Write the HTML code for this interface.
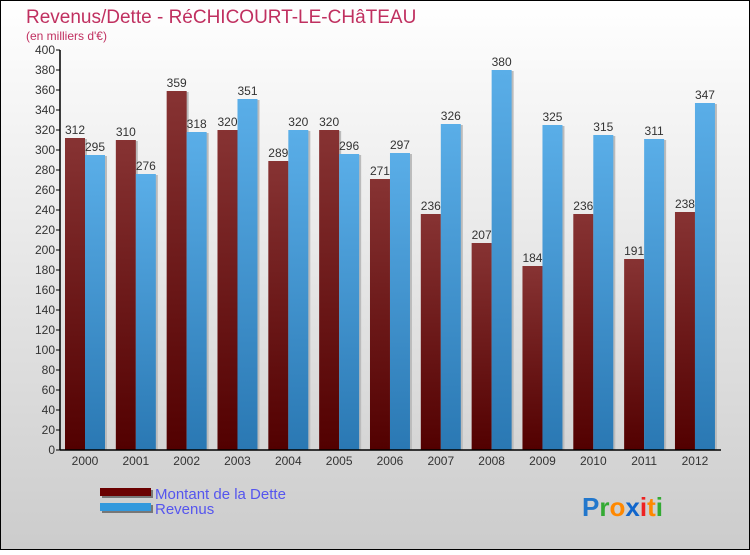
<!DOCTYPE html>
<html><head><meta charset="utf-8"><style>
body{margin:0;}
svg text{font-family:"Liberation Sans",sans-serif;}
</style></head><body>
<svg width="750" height="550" xmlns="http://www.w3.org/2000/svg">
<defs>
<linearGradient id="bg" x1="0" y1="0" x2="0" y2="1"><stop offset="0" stop-color="#ffffff"/><stop offset="1" stop-color="#cccccc"/></linearGradient>
<linearGradient id="gd" x1="0" y1="0" x2="0" y2="1"><stop offset="0" stop-color="#873333"/><stop offset="1" stop-color="#520000"/></linearGradient>
<linearGradient id="gr" x1="0" y1="0" x2="0" y2="1"><stop offset="0" stop-color="#5aaee8"/><stop offset="1" stop-color="#2a78b3"/></linearGradient>
</defs>
<rect x="0.5" y="0.5" width="749" height="549" fill="url(#bg)" stroke="#000"/>
<text x="26" y="23" font-size="19" fill="#c03060">Revenus/Dette - RéCHICOURT-LE-CHâTEAU</text>
<text x="26" y="40" font-size="12" fill="#c03060">(en milliers d'€)</text>
<g id="plot"></g>
<g>
<rect x="102" y="490" width="51" height="8" fill="#777"/>
<rect x="100" y="488" width="51" height="8" fill="#6a0000"/>
<rect x="102" y="505" width="51" height="8" fill="#777"/>
<rect x="100" y="503" width="51" height="8" fill="#3399dd"/>
<text x="155" y="499" font-size="15" fill="#5555ee">Montant de la Dette</text>
<text x="155" y="514" font-size="15" fill="#5555ee">Revenus</text>
</g>
<g font-size="26" font-weight="bold">
<text x="582" y="516"><tspan fill="#2277cc">P</tspan><tspan fill="#33aa33">r</tspan><tspan fill="#ff8800">o</tspan><tspan fill="#1166cc">x</tspan><tspan fill="#ee2222">i</tspan><tspan fill="#ff8800">t</tspan><tspan fill="#33aa33">i</tspan></text>
</g>
</svg>
<script>
const categories=["2000","2001","2002","2003","2004","2005","2006","2007","2008","2009","2010","2011","2012"];
const dette=[312,310,359,320,289,320,271,236,207,184,236,191,238];
const revenus=[295,276,318,351,320,296,297,326,380,325,315,311,347];
const yTicks=[0,20,40,60,80,100,120,140,160,180,200,220,240,260,280,300,320,340,360,380,400];
const NS="http://www.w3.org/2000/svg";
const g=document.getElementById('plot');
const y0=450,yMax=400,ph=400,axX=60,axEnd=721;
function yS(v){return y0-v/yMax*ph;}
function xC(i){return 85+i*50.83;}
function mk(t,a,p){const e=document.createElementNS(NS,t);for(const k in a)e.setAttribute(k,a[k]);(p||g).appendChild(e);return e;}
categories.forEach((c,i)=>{
  const cx=xC(i);
  [[dette[i],cx-20,'url(#gd)','bar-dette-'+c],[revenus[i],cx,'url(#gr)','bar-revenus-'+c]].forEach(([v,x,f,n])=>{
    mk('rect',{x:x+2,y:yS(v)+1,width:20,height:y0-yS(v)-1,fill:'#bbb'});
    const r=mk('rect',{x:x,y:yS(v),width:20,height:y0-yS(v),fill:f});
    
    
    const t=mk('text',{x:x+10,y:yS(v)-4,'font-size':12,fill:'#333','text-anchor':'middle'});
    t.textContent=v;
    
    
  });
  const l=mk('text',{x:cx,y:465,'font-size':12,fill:'#333','text-anchor':'middle'});
  l.textContent=c;
  
  
});
yTicks.forEach(v=>{
  mk('line',{x1:axX-4,x2:axX,y1:yS(v),y2:yS(v),stroke:'#000'});
  const t=mk('text',{x:axX-5,y:yS(v)+4,'font-size':12,fill:'#333','text-anchor':'end'});
  t.textContent=v;
  
  
});
const ya=mk('line',{x1:axX,x2:axX,y1:50,y2:y0,stroke:'#000','stroke-width':1.5});


const xa=mk('line',{x1:axX,x2:axEnd,y1:y0,y2:y0,stroke:'#000','stroke-width':1.5});


</script>
</body></html>
